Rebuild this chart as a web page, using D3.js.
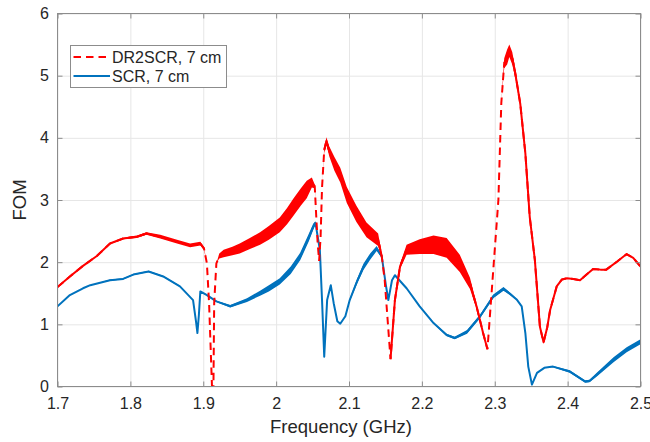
<!DOCTYPE html>
<html>
<head>
<meta charset="utf-8">
<script src="https://cdn.jsdelivr.net/npm/d3@7"></script>
<style>
  body { margin: 0; background: #fff; }
  text { font-family: "Liberation Sans", Arial, sans-serif; fill: #262626; }
</style>
</head>
<body>
<div id="wrapper"></div>
<script>
// Data
const xTicks = [1.7, 1.8, 1.9, 2.0, 2.1, 2.2, 2.3, 2.4, 2.5];
const yTicks = [0, 1, 2, 3, 4, 5, 6];
const seriesNames = ["DR2SCR, 7 cm", "SCR, 7 cm"];

// DR2SCR (red, dashed); spread = half-height of the noisy band
const freqRed = [1.700, 1.717, 1.735, 1.754, 1.772, 1.790, 1.809, 1.822, 1.841, 1.864,
  1.882, 1.896, 1.901, 1.905, 1.908, 1.912, 1.913, 1.914, 1.915, 1.918,
  1.922, 1.928, 1.940, 1.950, 1.964, 1.978, 1.990, 2.005, 2.015, 2.024,
  2.034, 2.042, 2.049, 2.053, 2.055, 2.057, 2.059, 2.061, 2.063, 2.066,
  2.069, 2.073, 2.080, 2.088, 2.097, 2.110, 2.124, 2.140, 2.145, 2.149,
  2.152, 2.157, 2.163, 2.170, 2.179, 2.197, 2.216, 2.234, 2.252, 2.266,
  2.275, 2.284, 2.290, 2.305, 2.309, 2.313, 2.317, 2.320, 2.324, 2.328,
  2.335, 2.342, 2.348, 2.355, 2.362, 2.367, 2.372, 2.376, 2.385, 2.392,
  2.399, 2.408, 2.417, 2.426, 2.435, 2.445, 2.453, 2.468, 2.481, 2.490,
  2.500];
const fomRed = [1.60, 1.77, 1.94, 2.10, 2.30, 2.38, 2.41, 2.46, 2.41, 2.33,
  2.27, 2.30, 2.22, 1.98, 1.34, 0.00, -0.30, 0.00, 1.34, 1.98,
  2.10, 2.14, 2.18, 2.22, 2.30, 2.38, 2.47, 2.60, 2.74, 2.89,
  3.05, 3.17, 3.28, 3.22, 2.75, 2.30, 2.02, 2.40, 3.20, 3.80,
  3.95, 3.78, 3.58, 3.40, 3.08, 2.78, 2.52, 2.36, 2.09, 1.71,
  1.23, 0.44, 1.39, 1.93, 2.20, 2.25, 2.28, 2.23, 1.98, 1.66,
  1.29, 0.86, 0.60, 3.00, 4.56, 5.20, 5.30, 5.40, 5.28, 5.05,
  4.55, 3.75, 2.73, 2.04, 0.96, 0.71, 0.95, 1.23, 1.61, 1.72,
  1.74, 1.73, 1.71, 1.80, 1.89, 1.88, 1.88, 2.01, 2.13, 2.07,
  1.93];
const spreadRed = [0, 0, 0, 0, 0.01, 0.01, 0.02, 0.02, 0.03, 0.03,
  0.03, 0.03, 0.02, 0, 0, 0, 0, 0, 0, 0,
  0.04, 0.06, 0.07, 0.08, 0.09, 0.10, 0.11, 0.12, 0.13, 0.14,
  0.14, 0.14, 0.08, 0.03, 0, 0, 0, 0, 0, 0.04,
  0.06, 0.08, 0.11, 0.12, 0.13, 0.13, 0.12, 0.10, 0.04, 0,
  0, 0.01, 0.01, 0.04, 0.08, 0.12, 0.15, 0.16, 0.14, 0.09,
  0.04, 0.01, 0.01, 0, 0, 0.08, 0.12, 0.10, 0.10, 0.08,
  0.04, 0.02, 0.01, 0.01, 0.01, 0.01, 0.01, 0, 0, 0,
  0, 0, 0, 0, 0, 0, 0, 0, 0, 0,
  0];

// SCR (blue, solid)
const freqBlue = [1.700, 1.717, 1.735, 1.745, 1.772, 1.790, 1.804, 1.825, 1.845, 1.868,
  1.886, 1.890, 1.892, 1.894, 1.896, 1.905, 1.918, 1.937, 1.960, 1.978,
  1.990, 2.005, 2.020, 2.033, 2.045, 2.051, 2.054, 2.060, 2.063, 2.066,
  2.070, 2.075, 2.079, 2.084, 2.088, 2.095, 2.101, 2.111, 2.120, 2.129,
  2.138, 2.145, 2.151, 2.154, 2.159, 2.163, 2.179, 2.197, 2.216, 2.234,
  2.245, 2.262, 2.280, 2.298, 2.312, 2.321, 2.330, 2.337, 2.342, 2.346,
  2.351, 2.358, 2.368, 2.380, 2.403, 2.424, 2.430, 2.440, 2.463, 2.481,
  2.500];
const fomBlue = [1.29, 1.47, 1.58, 1.63, 1.71, 1.73, 1.80, 1.85, 1.77, 1.61,
  1.39, 1.05, 0.86, 1.15, 1.53, 1.47, 1.37, 1.29, 1.39, 1.50,
  1.58, 1.69, 1.87, 2.09, 2.40, 2.57, 2.63, 2.20, 1.39, 0.48,
  1.39, 1.63, 1.34, 1.05, 1.01, 1.13, 1.39, 1.69, 1.93, 2.09,
  2.22, 2.09, 1.60, 1.39, 1.71, 1.79, 1.58, 1.29, 1.02, 0.83,
  0.78, 0.88, 1.13, 1.45, 1.57, 1.49, 1.40, 1.29, 0.86, 0.32,
  0.03, 0.22, 0.30, 0.32, 0.24, 0.08, 0.09, 0.19, 0.43, 0.59,
  0.72];
const spreadBlue = [0, 0, 0, 0, 0.01, 0.01, 0.01, 0.01, 0.01, 0.01,
  0, 0, 0, 0, 0, 0.01, 0.01, 0.02, 0.03, 0.04,
  0.05, 0.05, 0.06, 0.06, 0.06, 0.05, 0.03, 0, 0, 0,
  0, 0, 0, 0, 0, 0, 0.02, 0.04, 0.05, 0.05,
  0.04, 0.02, 0, 0, 0, 0, 0, 0, 0.01, 0.02,
  0.02, 0.03, 0.03, 0.03, 0.03, 0.02, 0.01, 0, 0, 0,
  0, 0, 0, 0.01, 0.02, 0.02, 0.02, 0.03, 0.04, 0.04,
  0.04];

function drawChart() {
  const dimensions = {
    width: 650,
    height: 442,
    left: 57.5,
    right: 640.5,
    top: 13.5,
    bottom: 386.5,
  };

  const redColor = "#ff0000";
  const blueColor = "#0072bd";
  const axisColor = "#8c8c8c";

  const svg = d3.select("#wrapper")
    .append("svg")
      .attr("width", dimensions.width)
      .attr("height", dimensions.height);

  const xScale = d3.scaleLinear()
    .domain([1.7, 2.5])
    .range([dimensions.left, dimensions.right]);

  const yScale = d3.scaleLinear()
    .domain([0, 6])
    .range([dimensions.bottom, dimensions.top]);

  // grid
  svg.append("g")
    .attr("transform", `translate(0,${dimensions.bottom})`)
    .call(d3.axisBottom(xScale).tickValues(xTicks).tickSize(-(dimensions.bottom - dimensions.top)).tickFormat(""))
    .call(g => g.select(".domain").remove())
    .call(g => g.selectAll("line").attr("stroke", "#e6e6e6"));
  svg.append("g")
    .attr("transform", `translate(${dimensions.left},0)`)
    .call(d3.axisLeft(yScale).tickValues(yTicks).tickSize(-(dimensions.right - dimensions.left)).tickFormat(""))
    .call(g => g.select(".domain").remove())
    .call(g => g.selectAll("line").attr("stroke", "#e6e6e6"));

  // clip
  svg.append("defs").append("clipPath")
      .attr("id", "plot-clip")
    .append("rect")
      .attr("x", dimensions.left)
      .attr("y", dimensions.top)
      .attr("width", dimensions.right - dimensions.left)
      .attr("height", dimensions.bottom - dimensions.top);

  const plot = svg.append("g").attr("clip-path", "url(#plot-clip)");

  const toRows = (fs, vs, ss) => fs.map((f, i) => ({ f, v: vs[i], s: ss[i] }));
  const blueRows = toRows(freqBlue, fomBlue, spreadBlue);
  const redRows = toRows(freqRed, fomRed, spreadRed);

  const band = d3.area()
    .x(d => xScale(d.f))
    .y0(d => yScale(d.v - d.s))
    .y1(d => yScale(d.v + d.s));
  const line = d3.line()
    .x(d => xScale(d.f))
    .y(d => yScale(d.v));

  // SCR
  plot.append("path")
    .datum(blueRows)
    .attr("d", band)
    .attr("fill", blueColor);
  plot.append("path")
    .datum(blueRows)
    .attr("d", line)
    .attr("fill", "none")
    .attr("stroke", blueColor)
    .attr("stroke-width", 2)
    .attr("stroke-linejoin", "round");

  // DR2SCR: dashed, but where the data is noisy or shallow the dashes run together
  const pxSlope = (a, b) => Math.abs((yScale(b.v) - yScale(a.v)) / (xScale(b.f) - xScale(a.f)));
  const solid = (d, i) => {
    if (d.s > 0) return true;
    const prev = i > 0 ? pxSlope(redRows[i - 1], d) : 0;
    const next = i < redRows.length - 1 ? pxSlope(d, redRows[i + 1]) : 0;
    return prev < 9 && next < 9;
  };

  plot.append("path")
    .datum(redRows)
    .attr("d", band)
    .attr("fill", redColor);
  plot.append("path")
    .datum(redRows)
    .attr("d", line)
    .attr("fill", "none")
    .attr("stroke", redColor)
    .attr("stroke-width", 2)
    .attr("stroke-dasharray", "7.5,5");
  plot.append("path")
    .datum(redRows)
    .attr("d", d3.line().defined(solid).x(d => xScale(d.f)).y(d => yScale(d.v)))
    .attr("fill", "none")
    .attr("stroke", redColor)
    .attr("stroke-width", 2)
    .attr("stroke-linejoin", "round");

  // axes
  const xAxis = svg.append("g")
    .attr("transform", `translate(0,${dimensions.bottom})`)
    .call(d3.axisBottom(xScale).tickValues(xTicks).tickSize(-5).tickPadding(11.5).tickFormat(d3.format("")));
  const yAxis = svg.append("g")
    .attr("transform", `translate(${dimensions.left},0)`)
    .call(d3.axisLeft(yScale).tickValues(yTicks).tickSize(-5).tickPadding(8.5).tickFormat(d3.format("")));
  [xAxis, yAxis].forEach(g => {
    g.select(".domain").remove();
    g.selectAll("line").attr("stroke", axisColor);
    g.selectAll("text").attr("font-size", 16).attr("font-family", null).attr("fill", "#262626");
  });

  // top/right ticks
  svg.append("g")
    .attr("transform", `translate(0,${dimensions.top})`)
    .call(d3.axisTop(xScale).tickValues(xTicks).tickSize(-5).tickFormat(""))
    .call(g => g.select(".domain").remove())
    .call(g => g.selectAll("line").attr("stroke", axisColor));
  svg.append("g")
    .attr("transform", `translate(${dimensions.right},0)`)
    .call(d3.axisRight(yScale).tickValues(yTicks).tickSize(-5).tickFormat(""))
    .call(g => g.select(".domain").remove())
    .call(g => g.selectAll("line").attr("stroke", axisColor));

  svg.append("rect")
    .attr("x", dimensions.left)
    .attr("y", dimensions.top)
    .attr("width", dimensions.right - dimensions.left)
    .attr("height", dimensions.bottom - dimensions.top)
    .attr("fill", "none")
    .attr("stroke", axisColor);

  // labels
  svg.append("text")
    .attr("x", 341)
    .attr("y", 433)
    .attr("text-anchor", "middle")
    .attr("font-size", 18.5)
    .text("Frequency (GHz)");
  svg.append("text")
    .attr("transform", `translate(26,${(dimensions.top + dimensions.bottom) / 2}) rotate(-90)`)
    .attr("text-anchor", "middle")
    .attr("font-size", 18.5)
    .text("FOM");

  // legend
  const legend = svg.append("g");
  legend.append("rect")
    .attr("x", 70.5)
    .attr("y", 45.5)
    .attr("width", 156)
    .attr("height", 42)
    .attr("fill", "#fff")
    .attr("stroke", axisColor);
  const legendItems = [
    { name: seriesNames[0], color: redColor, dash: "7.5,5", y: 57 },
    { name: seriesNames[1], color: blueColor, dash: null, y: 76 },
  ];
  legendItems.forEach(item => {
    legend.append("line")
      .attr("x1", 73.5)
      .attr("x2", 110)
      .attr("y1", item.y)
      .attr("y2", item.y)
      .attr("stroke", item.color)
      .attr("stroke-width", 2)
      .attr("stroke-dasharray", item.dash);
    legend.append("text")
      .attr("x", 112)
      .attr("y", item.y)
      .attr("dy", "0.36em")
      .attr("font-size", 16)
      .text(item.name);
  });
}
drawChart();
</script>
</body>
</html>
